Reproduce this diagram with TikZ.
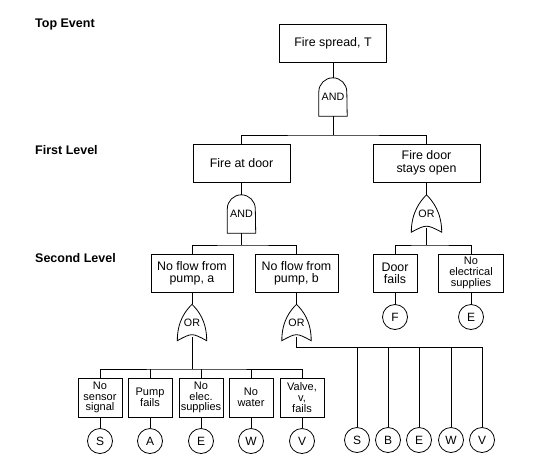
\documentclass[tikz,border=0pt]{standalone}
\usepackage{fontspec}
\setmainfont{Liberation Sans}
\usetikzlibrary{calc}
\newcommand\andshape[1]{\draw[wire] (#1.south west) -- ([yshift=-14pt]#1.north west) arc[start angle=180,end angle=0,radius=14pt] -- (#1.south east) -- cycle;}
\newcommand\orshape[1]{\draw[wire] (#1.south west) .. controls ([yshift=20pt]#1.south west) and ([xshift=-6pt,yshift=-6pt]#1.north) .. (#1.north) .. controls ([xshift=6pt,yshift=-6pt]#1.north) and ([yshift=20pt]#1.south east) .. (#1.south east) .. controls ([yshift=8pt]#1.south) .. (#1.south west) -- cycle;}
\begin{document}
\begin{tikzpicture}[x=1pt,y=-1pt,
  wire/.style={line width=0.8pt},
  box/.style={draw, line width=0.8pt, inner sep=0pt, align=center, minimum height=38pt, font=\fontsize{12.4}{12.5}\selectfont},
  smallbox/.style={box, minimum width=44pt, minimum height=39pt, font=\fontsize{11}{10.8}\selectfont},
  gate/.style={inner sep=0pt, minimum width=28pt, minimum height=38pt, font=\fontsize{10.7}{11}\selectfont},
  ev/.style={circle, draw, line width=0.8pt, minimum size=25pt, inner sep=0pt, font=\fontsize{12}{12}\selectfont},
  lvl/.style={anchor=west, inner sep=0pt, font=\bfseries\fontsize{12.5}{13}\selectfont}]
\useasboundingbox (0,0) rectangle (545,469);
% level labels
\node[lvl] (l0) at (35,24) {Top Event};
\node[lvl] (l1) at (35,150) {First Level};
\node[lvl] (l2) at (35,258) {Second Level};
% top
\node[box, minimum width=107pt] (T) at (333,43) {Fire spread, T};
\node[gate] (g1) at (333,97) {AND};
\andshape{g1}
% first level
\node[box, minimum width=97pt] (D) at (241.5,163) {Fire at door};
\node[box, minimum width=107pt, font=\fontsize{12.4}{12.7}\selectfont] (O) at (426.5,163) {Fire door\\stays open};
\node[gate] (g2) at (241.5,214) {AND};
\andshape{g2}
\node[gate, minimum width=30pt, minimum height=37pt] (g3) at (426.5,213.5) {OR};
\orshape{g3}
% second level
\node[box, minimum width=82pt, font=\fontsize{12.4}{12}\selectfont] (Pa) at (192,273) {No flow from\\pump, a};
\node[box, minimum width=83pt, font=\fontsize{12.4}{12}\selectfont] (Pb) at (296.5,273) {No flow from\\pump, b};
\node[box, minimum width=44pt, font=\fontsize{12.4}{12}\selectfont] (Df) at (395,273) {Door\\fails};
\node[box, minimum width=65pt, font=\fontsize{11}{11.2}\selectfont] (Ne) at (471,273) {No\\electrical\\supplies};
\node[ev] (F) at (395,317) {F};
\node[ev] (E0) at (471,317) {E};
\node[gate, minimum width=29pt, minimum height=36pt] (g4) at (192,322.5) {OR};
\orshape{g4}
\node[gate, minimum width=29pt, minimum height=36pt] (g5) at (296.5,322.5) {OR};
\orshape{g5}
% children of a
\node[smallbox] (c1) at (100,397.5) {No\\sensor\\signal};
\node[smallbox] (c2) at (150,397.5) {Pump\\fails};
\node[smallbox] (c3) at (201,397.5) {No\\elec.\\supplies};
\node[smallbox] (c4) at (251,397.5) {No\\water};
\node[smallbox] (c5) at (302,397.5) {Valve,\\v,\\fails};
\node[ev] (s1) at (100,441) {S};
\node[ev] (s2) at (150,441) {A};
\node[ev] (s3) at (201,441) {E};
\node[ev] (s4) at (251,441) {W};
\node[ev] (s5) at (302,441) {V};
% children of b
\node[ev] (r1) at (357,440) {S};
\node[ev] (r2) at (388,440) {B};
\node[ev] (r3) at (419,440) {E};
\node[ev] (r4) at (451,440) {W};
\node[ev] (r5) at (482,440) {V};
% bus coordinates
\coordinate (b1) at (333,135);
\coordinate (b2) at (241.5,245);
\coordinate (b3) at (426.5,245);
\coordinate (b4) at (192,369);
\coordinate (b5) at (296.5,347);
% connectors
\draw[wire] (T.south) -- (g1.north);
\draw[wire] (g1.south) -- (b1);
\draw[wire] (D.north) |- (b1) -| (O.north);
\draw[wire] (D.south) -- (g2.north);
\draw[wire] (O.south) -- (g3.north);
\draw[wire] (g2.south) -- (b2);
\draw[wire] (Pa.north) |- (b2) -| (Pb.north);
\draw[wire] ([yshift=4pt]g3.south) -- (b3);
\draw[wire] (Df.north) |- (b3) -| (Ne.north);
\draw[wire] (Df.south) -- (F.north);
\draw[wire] (Ne.south) -- (E0.north);
\draw[wire] (Pa.south) -- (g4.north);
\draw[wire] (Pb.south) -- (g5.north);
\draw[wire] ([yshift=4pt]g4.south) -- (b4);
\draw[wire] (c1.north) |- (b4) -| (c5.north);
\foreach \c in {c2,c3,c4} \draw[wire] (\c.north) -- (\c.north |- b4);
\foreach \i in {1,...,5} \draw[wire] (c\i.south) -- (s\i.north);
\draw[wire] ([yshift=4pt]g5.south) -- (b5) -| (r5.north);
\foreach \r in {r1,r2,r3,r4} \draw[wire] (\r.north) -- (\r.north |- b5);
\end{tikzpicture}
\end{document}
